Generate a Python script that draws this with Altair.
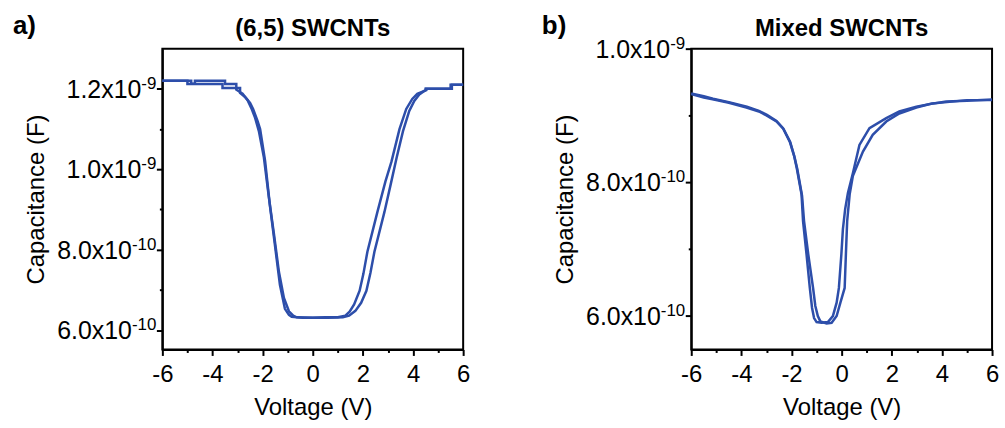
import altair as alt
import pandas as pd

# ---------------- data (capacitance in units of 1e-10 F) ----------------
# (6,5) SWCNTs, sweep A
V_65_A = [-6, -5.0, -5.0, -3.6, -3.6, -2.9, -2.9, -2.7, -2.5, -2.38, -2.2, -2.1, -1.9, -1.71,
          -1.51, -1.31, -1.11, -0.95, -0.84, -0.4, 0.0, 0.5, 1.0, 1.3, 1.47, 1.65, 1.87, 2.02, 2.18,
          2.58, 2.9, 3.14, 3.46, 3.73, 3.97, 4.17, 4.53, 4.53, 5.5, 5.5, 6.0]
C_65_A = [12.2, 12.2, 12.12, 12.12, 12.02, 12.02, 11.9, 11.8, 11.65, 11.5, 11.2, 11.0, 10.2, 9.1,
          8.12, 7.13, 6.53, 6.38, 6.33, 6.31, 6.31, 6.32, 6.32, 6.36, 6.46, 6.64, 6.98, 7.4, 7.95,
          8.94, 9.7, 10.19, 11.0, 11.5, 11.75, 11.88, 11.97, 12.0, 12.0, 12.1, 12.1]
# (6,5) SWCNTs, sweep B
V_65_B = [-6, -4.85, -4.85, -4.7, -4.7, -3.5, -3.5, -3.05, -3.05, -2.8, -2.6, -2.45, -2.3, -2.15,
          -1.95, -1.75, -1.55, -1.35, -1.15, -0.95, -0.78, -0.64, 0.0, 0.6, 1.2, 1.45, 1.7, 1.93,
          2.14, 2.3, 2.46, 2.86, 3.1, 3.35, 3.6, 3.85, 4.05, 4.25, 4.5, 4.5, 5.55, 5.55, 6.0]
C_65_B = [12.2, 12.2, 12.13, 12.13, 12.2, 12.2, 12.12, 12.12, 11.98, 11.88, 11.72, 11.52, 11.28, 10.95,
          10.3, 9.3, 8.4, 7.45, 6.8, 6.47, 6.36, 6.32, 6.31, 6.31, 6.32, 6.36, 6.48, 6.68,
          6.98, 7.42, 7.95, 8.94, 9.6, 10.3, 10.95, 11.45, 11.7, 11.86, 11.97, 12.0, 12.0, 12.1, 12.1]

# Mixed SWCNTs, sweep A
V_MIX_A = [-6, -5.5, -5.13, -4.5, -3.78, -3.3, -2.98, -2.6, -2.34, -2.07, -1.9, -1.79, -1.6, -1.54,
           -1.4, -1.27, -1.18, -1.1, -1.0, -0.8, -0.55, -0.35, -0.2, -0.11, -0.01, 0.05, 0.14, 0.25,
           0.45, 0.71, 1.11, 1.78, 2.3, 2.98, 3.5, 4.17, 5.0, 6.0]
C_MIX_A = [9.33, 9.29, 9.25, 9.2, 9.13, 9.07, 9.01, 8.92, 8.81, 8.61, 8.4, 8.21, 7.82, 7.42,
           6.92, 6.42, 6.12, 5.97, 5.91, 5.9, 5.91, 6.0, 6.2, 6.42, 6.93, 7.3, 7.6, 7.84,
           8.14, 8.56, 8.81, 8.96, 9.06, 9.13, 9.17, 9.21, 9.22, 9.24]
# Mixed SWCNTs, sweep B
V_MIX_B = [-6, -5.5, -5.1, -4.5, -3.8, -3.3, -3.0, -2.6, -2.32, -2.05, -1.88, -1.77, -1.58, -1.5,
           -1.33, -1.14, -1.05, -0.95, -0.85, -0.6, -0.4, -0.2, -0.05, 0.12, 0.17, 0.22, 0.32, 0.45,
           0.85, 1.24, 1.78, 2.3, 2.98, 3.6, 4.2, 5.0, 6.0]
C_MIX_B = [9.32, 9.27, 9.24, 9.19, 9.12, 9.06, 9.0, 8.91, 8.8, 8.6, 8.38, 8.2, 7.8, 7.42,
           6.92, 6.42, 6.15, 6.0, 5.92, 5.89, 5.9, 6.0, 6.2, 6.42, 6.93, 7.42, 7.82, 8.1,
           8.46, 8.71, 8.91, 9.03, 9.12, 9.18, 9.2, 9.23, 9.23]

PANEL_TITLES = ["(6,5) SWCNTs", "Mixed SWCNTs"]
PANEL_LETTERS = ["a)", "b)"]

X_TICKS = list(range(-6, 7))
Y_TICKS_65 = [6e-10, 7e-10, 8e-10, 9e-10, 1.0e-9, 1.1e-9, 1.2e-9]
Y_LABEL_VAL_65 = [6e-10, 8e-10, 1.0e-9, 1.2e-9]
Y_LABEL_BASE_65 = ["6.0x10", "8.0x10", "1.0x10", "1.2x10"]
Y_LABEL_EXP_65 = ["-10", "-10", "-9", "-9"]

Y_TICKS_MIX = [6e-10, 7e-10, 8e-10, 9e-10, 1.0e-9]
Y_LABEL_VAL_MIX = [6e-10, 8e-10, 1.0e-9]
Y_LABEL_BASE_MIX = ["6.0x10", "8.0x10", "1.0x10"]
Y_LABEL_EXP_MIX = ["-10", "-10", "-9"]

Y_DOMAIN_65 = [5.52e-10, 1.3e-9]
Y_DOMAIN_MIX = [5.5e-10, 1.0e-9]

FONT = "Liberation Sans"
BLUE = "#2D4EAA"
W, H = 302, 302
LABEL_SIZE = 24
BASE_SIZE = 25
EXP_SIZE = 17


def make_df(va, ca, vb, cb):
    rows = []
    for i, (v, c) in enumerate(zip(va, ca)):
        rows.append({"V": v, "C": c * 1e-10, "sweep": "A", "i": i})
    for i, (v, c) in enumerate(zip(vb, cb)):
        rows.append({"V": v, "C": c * 1e-10, "sweep": "B", "i": i})
    return pd.DataFrame(rows)


def panel(df, title, ydomain, yticks, lab_vals, lab_base, lab_exp, letter):
    yscale = alt.Scale(domain=ydomain, nice=False, zero=False)
    xaxis = alt.Axis(
        values=X_TICKS,
        labelExpr="abs(datum.value) % 2 == 1 ? '' : '' + datum.value",
        tickSize={"condition": {"test": "abs(datum.value) % 2 == 1", "value": 3}, "value": 6},
        labelPadding=7.5, labelFlush=False, labelOverlap=False,
        title="Voltage (V)", titleX=W / 2, titleY=65, titleBaseline="alphabetic",
    )
    yaxis = alt.Axis(
        values=yticks, labels=False,
        tickSize={"condition": {"test": "round(datum.value*1e10) % 2 == 1", "value": 3}, "value": 6},
        title="Capacitance (F)", titleX=-119, titleY=H / 2, titleBaseline="alphabetic",
    )
    lines = alt.Chart(df).mark_line(color=BLUE, strokeWidth=2.5).encode(
        x=alt.X("V:Q", scale=alt.Scale(domain=[-6, 6], nice=False, zero=False), axis=xaxis),
        y=alt.Y("C:Q", scale=yscale, axis=yaxis),
        detail="sweep:N",
        order="i:Q",
    )

    # y tick labels "m.mx10" with a raised exponent, right-aligned next to the ticks
    lab_df = pd.DataFrame({"val": lab_vals, "base": lab_base, "exp": lab_exp})
    lab = alt.Chart(lab_df).transform_calculate(
        bx=f"-6 - {EXP_SIZE} * (0.333 + 0.556 * (length(datum.exp) - 1))"
    )
    base_txt = lab.mark_text(
        align="right", baseline="alphabetic", font=FONT, fontSize=BASE_SIZE, color="black", dy=9
    ).encode(
        x=alt.X("bx:Q", scale=None), y=alt.Y("val:Q", scale=yscale, axis=yaxis), text="base:N"
    )
    exp_txt = lab.mark_text(
        align="left", baseline="alphabetic", font=FONT, fontSize=EXP_SIZE, color="black", dy=0
    ).encode(
        x=alt.X("bx:Q", scale=None), y=alt.Y("val:Q", scale=yscale, axis=yaxis), text="exp:N"
    )

    head = pd.DataFrame({"letter": [letter], "title": [title]})
    tag = alt.Chart(head).mark_text(
        align="left", baseline="alphabetic", font=FONT, fontSize=26, fontWeight="bold", color="black"
    ).encode(text="letter:N", x=alt.value(-150), y=alt.value(-15))
    ttl = alt.Chart(head).mark_text(
        align="center", baseline="alphabetic", font=FONT, fontSize=24, fontWeight="bold", color="black"
    ).encode(text="title:N", x=alt.value(W / 2), y=alt.value(-13))

    return alt.layer(lines, base_txt, exp_txt, tag, ttl).properties(width=W, height=H)


left = panel(make_df(V_65_A, C_65_A, V_65_B, C_65_B), PANEL_TITLES[0], Y_DOMAIN_65, Y_TICKS_65,
             Y_LABEL_VAL_65, Y_LABEL_BASE_65, Y_LABEL_EXP_65, PANEL_LETTERS[0])
right = panel(make_df(V_MIX_A, C_MIX_A, V_MIX_B, C_MIX_B), PANEL_TITLES[1], Y_DOMAIN_MIX, Y_TICKS_MIX,
              Y_LABEL_VAL_MIX, Y_LABEL_BASE_MIX, Y_LABEL_EXP_MIX, PANEL_LETTERS[1])

chart = alt.hconcat(left, right, spacing=70).properties(
    padding={"left": 12, "top": 11, "right": 5, "bottom": 5},
    background="white",
).configure_axis(
    labelFont=FONT, labelFontSize=LABEL_SIZE, labelColor="black",
    titleFont=FONT, titleFontSize=24, titleFontWeight="normal", titleColor="black",
    domainColor="black", domainWidth=2, tickColor="black", tickWidth=2, grid=False,
).configure_view(
    stroke="black", strokeWidth=2,
)

chart.save("out.html", embed_options={"renderer": "svg", "actions": False})
